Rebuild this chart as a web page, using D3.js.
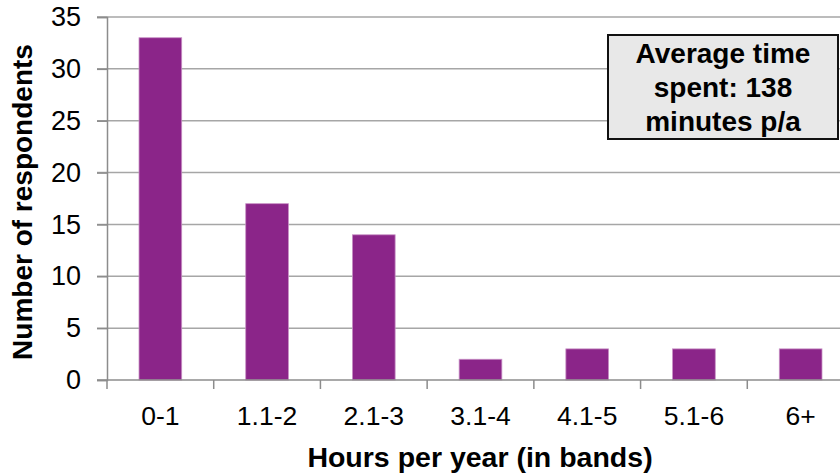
<!DOCTYPE html>
<html>
<head>
<meta charset="utf-8">
<script src="https://cdn.jsdelivr.net/npm/d3@7"></script>
<style>
  html, body { margin: 0; padding: 0; background: #fff; }
  svg { display: block; font-family: Arial, "Liberation Sans", sans-serif; }
</style>
</head>
<body>
<svg id="chart" width="840" height="474"></svg>
<script>
// Respondents by hours spent per year
const categories = ["0-1", "1.1-2", "2.1-3", "3.1-4", "4.1-5", "5.1-6", "6+"];
const respondents = [33, 17, 14, 2, 3, 3, 3];
const yTicks = [0, 5, 10, 15, 20, 25, 30, 35];
const noteLines = ["Average time", "spent: 138", "minutes p/a"];

const svg = d3.select("#chart");
const plot = { left: 107, right: 854, top: 17, bottom: 380 };

const x = d3.scaleBand().domain(categories).range([plot.left, plot.right]).paddingInner(0.6).paddingOuter(0.3);
const xEdge = d3.scaleBand().domain(categories).range([plot.left, plot.right]);
const y = d3.scaleLinear().domain([0, 35]).range([plot.bottom, plot.top]);

// horizontal gridlines with short left ticks
svg.append("g").selectAll("line").data(yTicks.filter(d => d > 0)).join("line")
  .attr("x1", plot.left - 10).attr("x2", plot.right)
  .attr("y1", d => y(d)).attr("y2", d => y(d))
  .attr("stroke", "#a6a6a6").attr("stroke-width", 1.5);

// y axis
const yAxis = svg.append("g").attr("transform", `translate(${plot.left},0)`)
  .call(d3.axisLeft(y).tickValues(yTicks).tickSize(10).tickPadding(16));
yAxis.select(".domain").attr("stroke", "#8c8c8c").attr("stroke-width", 1.5);
yAxis.selectAll(".tick line").attr("stroke", "#8c8c8c").attr("stroke-width", 1.5);
yAxis.selectAll(".tick text").attr("font-size", 27).attr("fill", "#000")
  .attr("font-family", "Arial, 'Liberation Sans', sans-serif");

// bars
svg.append("g").selectAll("rect").data(respondents).join("rect")
  .attr("x", (d, i) => x(categories[i]))
  .attr("width", x.bandwidth())
  .attr("y", d => y(d))
  .attr("height", d => y(0) - y(d))
  .attr("fill", "#8B2589")
  .attr("stroke", "#c78fc4").attr("stroke-width", 0.8);

// x axis with ticks on category boundaries
const xg = svg.append("g");
xg.append("line").attr("x1", plot.left - 10).attr("x2", plot.right)
  .attr("y1", plot.bottom).attr("y2", plot.bottom)
  .attr("stroke", "#8c8c8c").attr("stroke-width", 1.5);
xg.selectAll("line.tk").data(categories).join("line").attr("class", "tk")
  .attr("x1", d => xEdge(d)).attr("x2", d => xEdge(d))
  .attr("y1", plot.bottom).attr("y2", plot.bottom + 9)
  .attr("stroke", "#8c8c8c").attr("stroke-width", 1.5);
xg.selectAll("text").data(categories).join("text")
  .attr("x", d => x(d) + x.bandwidth() / 2)
  .attr("y", 425)
  .attr("text-anchor", "middle")
  .attr("font-size", 26.5)
  .text(d => d);

// axis titles
svg.append("text").attr("x", 480).attr("y", 467).attr("text-anchor", "middle")
  .attr("font-size", 28.5).attr("font-weight", "bold").text("Hours per year (in bands)");
svg.append("text").attr("transform", "translate(32,202) rotate(-90)").attr("text-anchor", "middle")
  .attr("font-size", 28).attr("font-weight", "bold").text("Number of respondents");

// note box
const note = svg.append("g");
note.append("rect").attr("x", 608).attr("y", 35).attr("width", 230).attr("height", 104)
  .attr("fill", "#e8e8e8").attr("stroke", "#111").attr("stroke-width", 2);
note.selectAll("text").data(noteLines).join("text")
  .attr("x", 723).attr("y", (d, i) => 63 + i * 34)
  .attr("text-anchor", "middle").attr("font-size", 28).attr("font-weight", "bold")
  .text(d => d);
</script>
</body>
</html>
